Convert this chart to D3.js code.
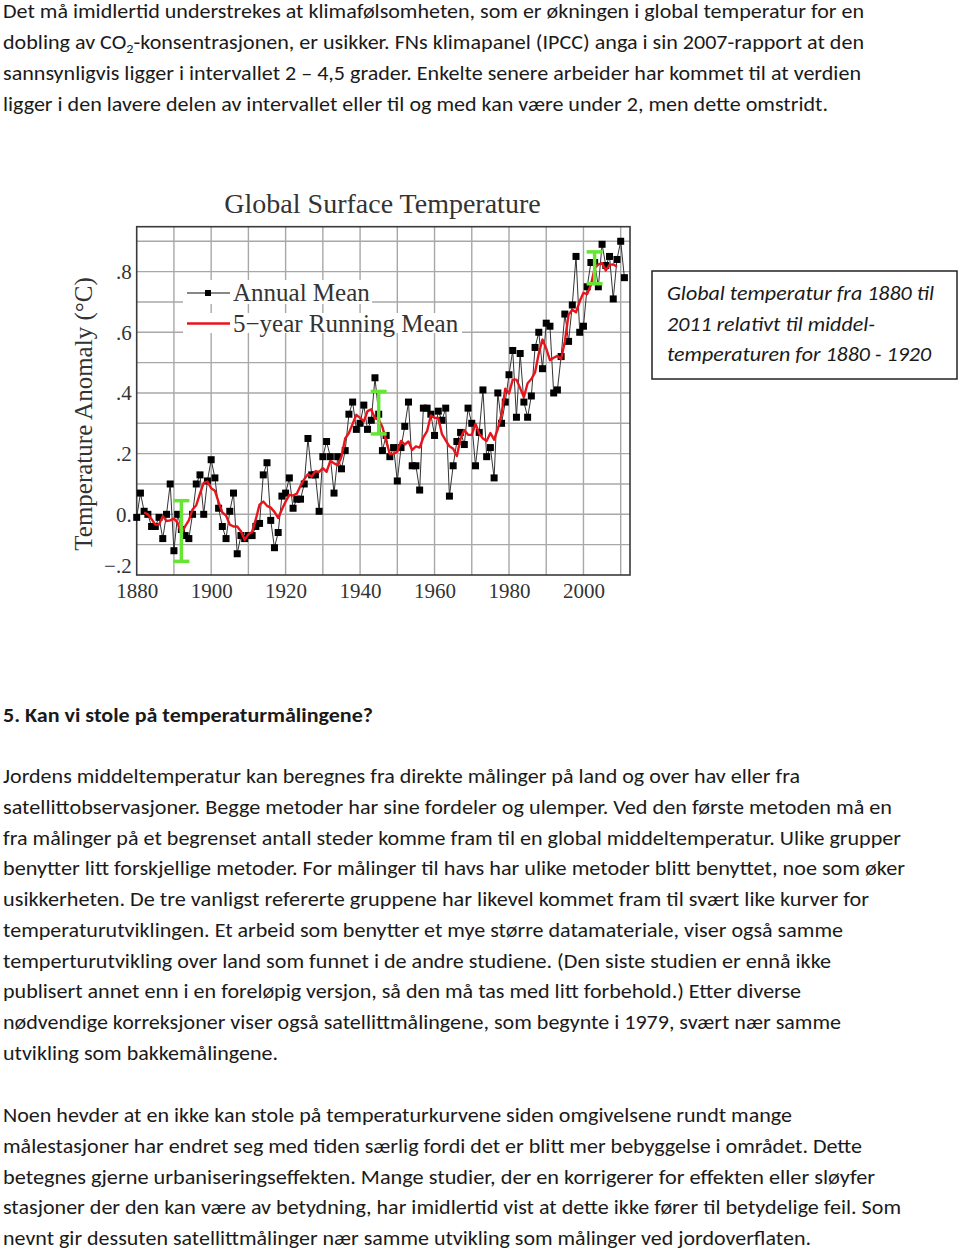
<!DOCTYPE html>
<html>
<head>
<meta charset="utf-8">
<script src="https://cdn.jsdelivr.net/npm/d3@7"></script>
<style>
  html, body { margin: 0; padding: 0; background: #fff; }
  svg { display: block; }
</style>
</head>
<body>
<div id="page"></div>
<script>
// ---------------- DATA ----------------
const annualYears = d3.range(1880, 2012);
const annualMean = [
  -0.01, 0.07, 0.01, 0.00, -0.04, -0.04, -0.01, -0.08, 0.00, 0.10,
  -0.12, 0.00, -0.05, -0.07, -0.08, 0.00, 0.10, 0.13, 0.00, 0.11,
  0.18, 0.12, 0.02, -0.04, -0.08, 0.01, 0.07, -0.13, -0.07, -0.08,
  -0.07, -0.07, -0.04, -0.03, 0.13, 0.17, -0.02, -0.11, -0.06, 0.06,
  0.07, 0.12, 0.02, 0.05, 0.05, 0.10, 0.25, 0.13, 0.13, 0.01,
  0.19, 0.24, 0.19, 0.07, 0.19, 0.15, 0.21, 0.33, 0.37, 0.28,
  0.30, 0.36, 0.28, 0.31, 0.45, 0.33, 0.21, 0.26, 0.19, 0.22,
  0.11, 0.22, 0.29, 0.37, 0.16, 0.16, 0.08, 0.35, 0.35, 0.33,
  0.26, 0.34, 0.31, 0.35, 0.06, 0.16, 0.24, 0.27, 0.23, 0.35,
  0.30, 0.16, 0.27, 0.41, 0.19, 0.22, 0.12, 0.40, 0.30, 0.37,
  0.46, 0.54, 0.32, 0.53, 0.37, 0.32, 0.39, 0.55, 0.60, 0.48,
  0.63, 0.62, 0.40, 0.41, 0.52, 0.66, 0.57, 0.69, 0.85, 0.60,
  0.62, 0.75, 0.83, 0.83, 0.75, 0.89, 0.82, 0.85, 0.71, 0.84,
  0.90, 0.78
];
const runningYears = d3.range(1882, 2010);
const runningMean = [
  0.006, 0.000, -0.016, -0.034, -0.034, -0.006, -0.022, -0.020,
  -0.014, -0.028, -0.064, -0.040, -0.020, 0.016, 0.030, 0.068, 0.104, 0.108,
  0.086, 0.078, 0.040, 0.006, -0.004, -0.034, -0.040, -0.040, -0.056, -0.084,
  -0.066, -0.058, -0.016, 0.032, 0.042, 0.028, 0.022, 0.008, -0.012, 0.016,
  0.042, 0.064, 0.062, 0.068, 0.094, 0.116, 0.132, 0.124, 0.142, 0.140,
  0.152, 0.140, 0.176, 0.168, 0.162, 0.190, 0.250, 0.268, 0.298, 0.328,
  0.318, 0.306, 0.340, 0.346, 0.316, 0.312, 0.288, 0.242, 0.198, 0.200,
  0.206, 0.242, 0.230, 0.240, 0.212, 0.224, 0.220, 0.254, 0.274, 0.326,
  0.318, 0.318, 0.264, 0.244, 0.224, 0.216, 0.192, 0.250, 0.278, 0.262,
  0.262, 0.298, 0.266, 0.250, 0.242, 0.268, 0.246, 0.282, 0.330, 0.414,
  0.398, 0.444, 0.444, 0.416, 0.386, 0.432, 0.446, 0.468, 0.530, 0.576,
  0.546, 0.508, 0.516, 0.522, 0.512, 0.570, 0.658, 0.674, 0.666, 0.702,
  0.730, 0.726, 0.756, 0.810, 0.824, 0.828, 0.804, 0.822, 0.824, 0.816
];
const errorBarYears = [1892, 1945, 2003];
const errorBarLow  = [-0.155, 0.265, 0.760];
const errorBarHigh = [0.045, 0.405, 0.865];

const xTickYears  = [1880, 1900, 1920, 1940, 1960, 1980, 2000];
const xTickLabels = ["1880", "1900", "1920", "1940", "1960", "1980", "2000"];
const yTickValues = [-0.2, 0, 0.2, 0.4, 0.6, 0.8];
const yTickLabels = ["\u2212.2", "0.", ".2", ".4", ".6", ".8"];
const xGridYears  = d3.range(1890, 2011, 10);
const yGridValues = [-0.1, 0, 0.1, 0.2, 0.3, 0.4, 0.5, 0.6, 0.7, 0.8, 0.9];

const chartTitle = "Global Surface Temperature";
const yAxisTitle = "Temperature Anomaly (\u00B0C)";
const legendLabels = ["Annual Mean", "5\u2212year Running Mean"];

const captionLines = [
  "Global temperatur fra 1880 til",
  "2011 relativt til middel-",
  "temperaturen for 1880 - 1920"
];

// ---------------- PAGE ----------------
const W = 960, H = 1251;
const svg = d3.select("#page").append("svg")
  .attr("width", W).attr("height", H)
  .attr("viewBox", `0 0 ${W} ${H}`);
svg.append("rect").attr("width", W).attr("height", H).attr("fill", "#fff");

const bodyFont = "Carlito, Lato, 'Open Sans', sans-serif";

function textLine(g, str, x, y, width, opts = {}) {
  const t = g.append("text")
    .attr("x", x).attr("y", y)
    .attr("font-family", opts.family || bodyFont)
    .attr("font-size", opts.size || 19.5)
    .attr("font-weight", opts.weight || "normal")
    .attr("font-style", opts.style || "normal")
    .attr("fill", opts.fill || "#1a1a1a");
  if (opts.parts) {
    opts.parts.forEach(p => {
      const ts = t.append("tspan").text(p.t);
      if (p.sub) ts.attr("font-size", (opts.size || 19.5) * 0.65).attr("dy", 4);
      if (p.after) ts.attr("dy", -4);
    });
  } else {
    t.text(str);
  }
  if (width) {
    const len = t.node().getComputedTextLength();
    if (len > 0) t.attr("textLength", width).attr("lengthAdjust", "spacingAndGlyphs");
  }
  return t;
}

const body = svg.append("g");

// top paragraph
textLine(body, "Det må imidlertid understrekes at klimafølsomheten, som er økningen i global temperatur for en", 3, 18, 861);
textLine(body, null, 3, 48.5, 861, { parts: [
  { t: "dobling av CO" }, { t: "2", sub: true },
  { t: "-konsentrasjonen, er usikker. FNs klimapanel (IPCC) anga i sin 2007-rapport at den", after: true }
]});
textLine(body, "sannsynligvis ligger i intervallet 2 – 4,5 grader. Enkelte senere arbeider har kommet til at verdien", 3, 79.5, 858);
textLine(body, "ligger i den lavere delen av intervallet eller til og med kan være under 2, men dette omstridt.", 3, 110.5, 825);

// heading
textLine(body, "5. Kan vi stole på temperaturmålingene?", 3, 722, 370, { weight: "bold" });

const para2 = [
  ["Jordens middeltemperatur kan beregnes fra direkte målinger på land og over hav eller fra", 797],
  ["satellittobservasjoner. Begge metoder har sine fordeler og ulemper. Ved den første metoden må en", 889],
  ["fra målinger på et begrenset antall steder komme fram til en global middeltemperatur. Ulike grupper", 898],
  ["benytter litt forskjellige metoder. For målinger til havs har ulike metoder blitt benyttet, noe som øker", 902],
  ["usikkerheten.  De tre vanligst refererte gruppene har likevel kommet fram til svært like kurver for", 866],
  ["temperaturutviklingen. Et arbeid som benytter et mye større datamateriale, viser også samme", 840],
  ["temperturutvikling over land som funnet i de andre studiene.  (Den siste studien er ennå ikke", 828],
  ["publisert annet enn i en foreløpig versjon, så den må tas med litt forbehold.) Etter diverse", 798],
  ["nødvendige korreksjoner viser også satellittmålingene, som begynte i 1979, svært nær samme", 838],
  ["utvikling som bakkemålingene.", 275]
];
para2.forEach((d, i) => textLine(body, d[0], 3, 783 + i * 30.75, d[1]));

const para3 = [
  ["Noen hevder at en ikke kan stole på temperaturkurvene siden omgivelsene rundt mange", 789],
  ["målestasjoner har endret seg med tiden særlig fordi det er blitt mer bebyggelse i området. Dette", 859],
  ["betegnes gjerne urbaniseringseffekten.  Mange studier, der en korrigerer for effekten eller sløyfer", 872],
  ["stasjoner der den kan være av betydning, har imidlertid vist at dette ikke fører til betydelige feil. Som", 898],
  ["nevnt gir dessuten satellittmålinger nær samme utvikling som målinger ved jordoverflaten.", 808]
];
para3.forEach((d, i) => textLine(body, d[0], 3, 1122 + i * 30.75, d[1]));

// caption box
const cap = svg.append("g");
cap.append("rect").attr("x", 652).attr("y", 271).attr("width", 305).attr("height", 108)
  .attr("fill", "#fff").attr("stroke", "#222").attr("stroke-width", 1.5);
const capWidths = [267, 208, 264];
captionLines.forEach((s, i) => textLine(cap, s, 667, 300 + i * 30.7, capWidths[i], { style: "italic" }));

// ---------------- CHART ----------------
const L = 136.7, R = 630, T = 226.7, B = 575;
const x = d3.scaleLinear().domain([1880, 2012.5]).range([L, R]);
const y = d3.scaleLinear().domain([-0.2, 0.948]).range([B, T]);
const serif = "'Liberation Serif', 'DejaVu Serif', serif";

const chart = svg.append("g");

// grid
chart.append("g").selectAll("line").data(xGridYears).join("line")
  .attr("x1", d => x(d)).attr("x2", d => x(d)).attr("y1", T).attr("y2", B)
  .attr("stroke", "#a8a8a8").attr("stroke-width", 1.4);
chart.append("g").selectAll("line").data(yGridValues).join("line")
  .attr("x1", L).attr("x2", R).attr("y1", d => y(d)).attr("y2", d => y(d))
  .attr("stroke", "#a8a8a8").attr("stroke-width", 1.4);

// legend background boxes (hide grid behind text)
chart.append("rect").attr("x", 183).attr("y", 280).attr("width", 189).attr("height", 24).attr("fill", "#fff");
chart.append("rect").attr("x", 183).attr("y", 313).attr("width", 279).attr("height", 20).attr("fill", "#fff");

// frame
chart.append("rect").attr("x", L).attr("y", T).attr("width", R - L).attr("height", B - T)
  .attr("fill", "none").attr("stroke", "#3a3a3a").attr("stroke-width", 1.6);

// annual line + markers
const annual = annualYears.map((yr, i) => ({ yr, v: annualMean[i] }));
chart.append("path").datum(annual)
  .attr("fill", "none").attr("stroke", "#333").attr("stroke-width", 1)
  .attr("d", d3.line().x(d => x(d.yr)).y(d => y(d.v)));
const ms = 7;
chart.append("g").selectAll("rect").data(annual).join("rect")
  .attr("x", d => x(d.yr) - ms / 2).attr("y", d => y(d.v) - ms / 2)
  .attr("width", ms).attr("height", ms).attr("fill", "#000");

// running mean
const running = runningYears.map((yr, i) => ({ yr, v: runningMean[i] }));
chart.append("path").datum(running)
  .attr("fill", "none").attr("stroke", "#e8141b").attr("stroke-width", 2.4)
  .attr("stroke-linejoin", "round")
  .attr("d", d3.line().x(d => x(d.yr)).y(d => y(d.v)));

// error bars
const eb = chart.append("g").attr("stroke", "#66e633").attr("stroke-width", 3.5);
errorBarYears.forEach((yr, i) => {
  eb.append("line").attr("x1", x(yr)).attr("x2", x(yr)).attr("y1", y(errorBarLow[i])).attr("y2", y(errorBarHigh[i]));
  eb.append("line").attr("x1", x(yr) - 8).attr("x2", x(yr) + 8).attr("y1", y(errorBarLow[i])).attr("y2", y(errorBarLow[i]));
  eb.append("line").attr("x1", x(yr) - 8).attr("x2", x(yr) + 8).attr("y1", y(errorBarHigh[i])).attr("y2", y(errorBarHigh[i]));
});

// axes
const xAxis = chart.append("g").attr("transform", `translate(0,${B})`)
  .call(d3.axisBottom(x).tickValues(xTickYears).tickFormat((d, i) => xTickLabels[i]).tickSize(0).tickPadding(8));
xAxis.select(".domain").remove();
xAxis.selectAll("text").attr("font-family", serif).attr("font-size", 21).attr("fill", "#333");

const yAxis = chart.append("g").attr("transform", `translate(${L - 5},0)`)
  .call(d3.axisLeft(y).tickValues(yTickValues).tickFormat((d, i) => yTickLabels[i]).tickSize(0).tickPadding(0));
yAxis.select(".domain").remove();
yAxis.selectAll("text").attr("font-family", serif).attr("font-size", 21).attr("fill", "#333");
yAxis.selectAll(".tick").filter(d => d === -0.2).select("text").attr("dy", "-0.1em");

// titles
chart.append("text").attr("x", 382.5).attr("y", 213).attr("text-anchor", "middle")
  .attr("font-family", serif).attr("font-size", 28).attr("fill", "#333").text(chartTitle);
chart.append("text").attr("transform", "translate(92,414) rotate(-90)").attr("text-anchor", "middle")
  .attr("font-family", serif).attr("font-size", 25).attr("fill", "#333").text(yAxisTitle);

// legend
const lg = chart.append("g");
lg.append("line").attr("x1", 187).attr("x2", 230).attr("y1", 293).attr("y2", 293).attr("stroke", "#111").attr("stroke-width", 1.2);
lg.append("rect").attr("x", 208 - 3).attr("y", 293 - 3).attr("width", 6).attr("height", 6).attr("fill", "#000");
lg.append("line").attr("x1", 187).attr("x2", 230).attr("y1", 323.5).attr("y2", 323.5).attr("stroke", "#e8141b").attr("stroke-width", 2.4);
legendLabels.forEach((s, i) => {
  lg.append("text").attr("x", 233).attr("y", 301 + i * 31).attr("font-family", serif)
    .attr("font-size", 25).attr("fill", "#333").text(s);
});
</script>
</body>
</html>
